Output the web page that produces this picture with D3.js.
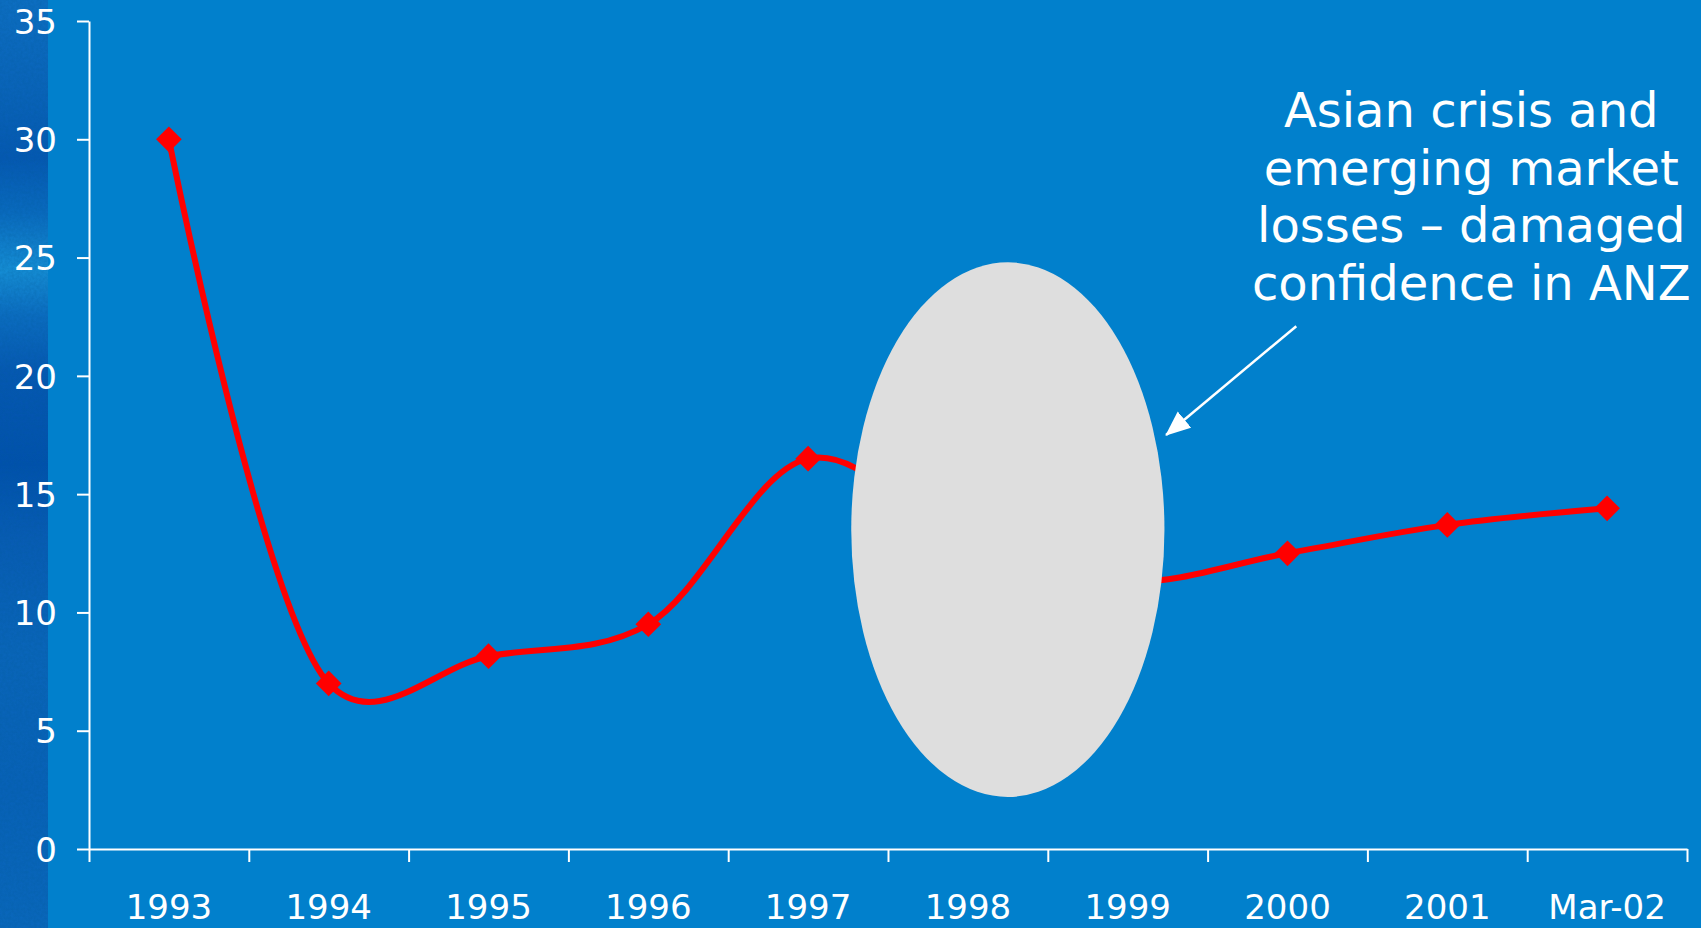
<!DOCTYPE html>
<html>
<head>
<meta charset="utf-8">
<title>ANZ chart</title>
<style>
  body { margin: 0; background: #0180cc; }
  svg { display: block; }
</style>
</head>
<body>
<div id="chart"></div>
<script src="https://d3js.org/d3.v7.min.js"></script>
<script>
// chart values
const categories = ["1993", "1994", "1995", "1996", "1997", "1998", "1999", "2000", "2001", "Mar-02"];
const values = [30.0, 7.0, 8.15, 9.5, 16.5, 13.0, 11.3, 12.5, 13.7, 14.4];
const yTicks = [0, 5, 10, 15, 20, 25, 30, 35];
const noteLines = ["Asian crisis and", "emerging market", "losses \u2013 damaged", "confidence in ANZ"];

const width = 1701;
const height = 928;

const margin = { top: 21, bottom: 79, left: 89, right: 14 };

const svg = d3.select("#chart")
  .append("svg")
  .attr("width", width)
  .attr("height", height);

// slide background + textured strip on the left
const defs = svg.append("defs");
const grad = defs.append("linearGradient")
  .attr("id", "strip")
  .attr("x1", 0).attr("y1", 0).attr("x2", 0).attr("y2", 1);
[[0, "#0e70c6"], [0.10, "#0a64bc"], [0.17, "#0558b4"], [0.23, "#0a6cc2"],
 [0.29, "#1792da"], [0.34, "#0c6ec4"], [0.40, "#0658b4"], [0.50, "#0050ae"],
 [0.58, "#085cb6"], [0.70, "#0a66bc"], [0.85, "#0862ba"], [1, "#0a68be"]]
  .forEach(s => grad.append("stop").attr("offset", s[0]).attr("stop-color", s[1]));

// a little grain for the strip
const grain = defs.append("filter").attr("id", "grain");
grain.append("feTurbulence")
  .attr("type", "fractalNoise").attr("baseFrequency", 0.35).attr("numOctaves", 2).attr("seed", 3);
grain.append("feColorMatrix")
  .attr("values", "0 0 0 0 0  0 0 0 0 0.1  0 0 0 0 0.3  0 0 0 0.35 0");
grain.append("feComposite").attr("in2", "SourceGraphic").attr("operator", "in");

svg.append("rect").attr("width", width).attr("height", height).attr("fill", "#0180cc");
svg.append("rect").attr("width", 48).attr("height", height).attr("fill", "url(#strip)");
svg.append("rect").attr("width", 48).attr("height", height).attr("fill", "#000").attr("filter", "url(#grain)");

defs.append("marker")
  .attr("id", "head")
  .attr("markerUnits", "userSpaceOnUse")
  .attr("viewBox", "0 -11 25 22")
  .attr("refX", 24).attr("refY", 0)
  .attr("markerWidth", 25).attr("markerHeight", 22)
  .attr("orient", "auto")
  .append("path")
  .attr("d", "M0,-10.5L25,0L0,10.5Z")
  .attr("fill", "white");

// scales
const x = d3.scaleBand()
  .domain(categories)
  .range([margin.left, width - margin.right]);

const xEdge = d3.scaleLinear()
  .domain([0, categories.length])
  .range([margin.left, width - margin.right]);

const y = d3.scaleLinear()
  .domain([0, 35])
  .range([height - margin.bottom, margin.top]);

const bw = x.bandwidth();
const cx = d => x(d) + bw / 2;

// axes
const yAxis = svg.append("g")
  .attr("transform", "translate(" + margin.left + ",0)")
  .call(d3.axisLeft(y).tickValues(yTicks).tickSize(12).tickSizeOuter(0).tickPadding(20));

const xAxis = svg.append("g")
  .attr("transform", "translate(0," + y(0) + ")")
  .call(d3.axisBottom(xEdge).tickValues(d3.range(categories.length + 1))
    .tickFormat("").tickSize(13).tickSizeOuter(0));

svg.selectAll(".domain, .tick line")
  .attr("stroke", "white")
  .attr("stroke-width", 2);

yAxis.selectAll("text")
  .attr("fill", "white")
  .attr("dy", "0.36em")
  .style("font-family", "'DejaVu Sans'")
  .style("font-size", "34px");

svg.append("g")
  .selectAll("text")
  .data(categories)
  .enter().append("text")
  .attr("x", d => cx(d))
  .attr("y", y(0) + 70)
  .attr("text-anchor", "middle")
  .attr("fill", "white")
  .style("font-family", "'DejaVu Sans'")
  .style("font-size", "34px")
  .text(d => d);

// red line
const line = d3.line()
  .x((d, i) => cx(categories[i]))
  .y(d => y(d))
  .curve(d3.curveCatmullRom.alpha(0.25));

svg.append("path")
  .datum(values)
  .attr("d", line)
  .attr("fill", "none")
  .attr("stroke", "#ff0000")
  .attr("stroke-width", 6);

svg.selectAll(".pt")
  .data(values)
  .enter().append("path")
  .attr("class", "pt")
  .attr("d", d3.symbol(d3.symbolSquare, 330))
  .attr("transform", (d, i) => "translate(" + cx(categories[i]) + "," + y(d) + ") rotate(45)")
  .attr("fill", "#ff0000");

// grey ellipse covering 1998-99
svg.append("ellipse")
  .attr("cx", x("1998") + bw * 0.75)
  .attr("cy", y(13.5))
  .attr("rx", bw * 0.98)
  .attr("ry", y(0) - y(11.3))
  .attr("fill", "#dedede");

// annotation
svg.append("line")
  .attr("x1", x("2000") + bw * 0.555)
  .attr("y1", y(22.1))
  .attr("x2", x("1999") + bw * 0.74)
  .attr("y2", y(17.5))
  .attr("stroke", "white")
  .attr("stroke-width", 2.5)
  .attr("marker-end", "url(#head)");

svg.append("text")
  .attr("text-anchor", "middle")
  .attr("fill", "white")
  .style("font-family", "'DejaVu Sans'")
  .style("font-size", "48px")
  .selectAll("tspan")
  .data(noteLines)
  .enter().append("tspan")
  .attr("x", x("2001") + bw * 0.65)
  .attr("y", (d, i) => y(30.5) + i * 57.4)
  .text(d => d);
</script>
</body>
</html>
